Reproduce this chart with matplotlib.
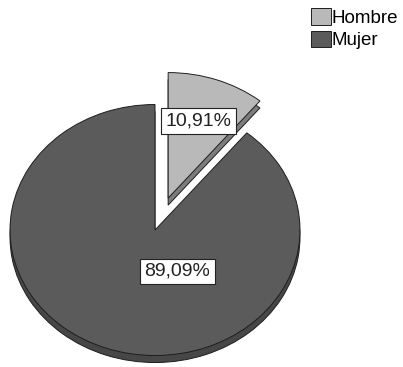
import numpy as np
import matplotlib.pyplot as plt

plt.rcParams['font.family'] = ['Liberation Sans', 'DejaVu Sans']

# Datos: distribución por sexo
sexos = ['Hombre', 'Mujer']
porcentajes = [10.91, 89.09]
colores = ['#b9b9b9', '#5b5b5b']
colores_borde = ['#7c7c7c', '#474747']
separacion = [0.27, 0.0]

fig = plt.figure(figsize=(4.03, 3.67), dpi=100)
ax = fig.add_axes([0, 0, 1, 1])

# Canto inferior (efecto 3D): la misma tarta desplazada hacia abajo
ax.pie(porcentajes, colors=colores_borde, explode=separacion, startangle=90,
       counterclock=False, center=(0, -0.056), radius=1, frame=True,
       wedgeprops=dict(edgecolor='#1e1e1e', linewidth=0.7))

# Cara superior
cunas, _ = ax.pie(porcentajes, colors=colores, explode=separacion, startangle=90,
                  counterclock=False, center=(0, 0), radius=1, frame=True,
                  wedgeprops=dict(edgecolor='#1e1e1e', linewidth=0.7))

# Etiquetas de porcentaje
pos_etiquetas = [(0.30, 0.87), (0.155, -0.33)]
for p, (x, y) in zip(porcentajes, pos_etiquetas):
    ax.text(x, y, f'{p:.2f}%'.replace('.', ','), ha='center', va='center',
            fontsize=14, color='#222222',
            bbox=dict(boxstyle='square,pad=0.22', facecolor='white',
                      edgecolor='#222222', linewidth=0.8))

ax.set_aspect('auto')
ax.set_xlim(-155 / 145, (403 - 155) / 145)
ax.set_ylim(-(367 - 230) / 125.5, 230 / 125.5)
ax.axis('off')

ax.legend(cunas, sexos, loc='upper left', bbox_to_anchor=(311 / 403, 1 - 8 / 367),
          bbox_transform=fig.transFigure, frameon=False, fontsize=13.5,
          handlelength=1.05, handleheight=1.0, handletextpad=0.05,
          labelspacing=0.2, borderpad=0, borderaxespad=0)

fig.savefig('out.png', dpi=100)
